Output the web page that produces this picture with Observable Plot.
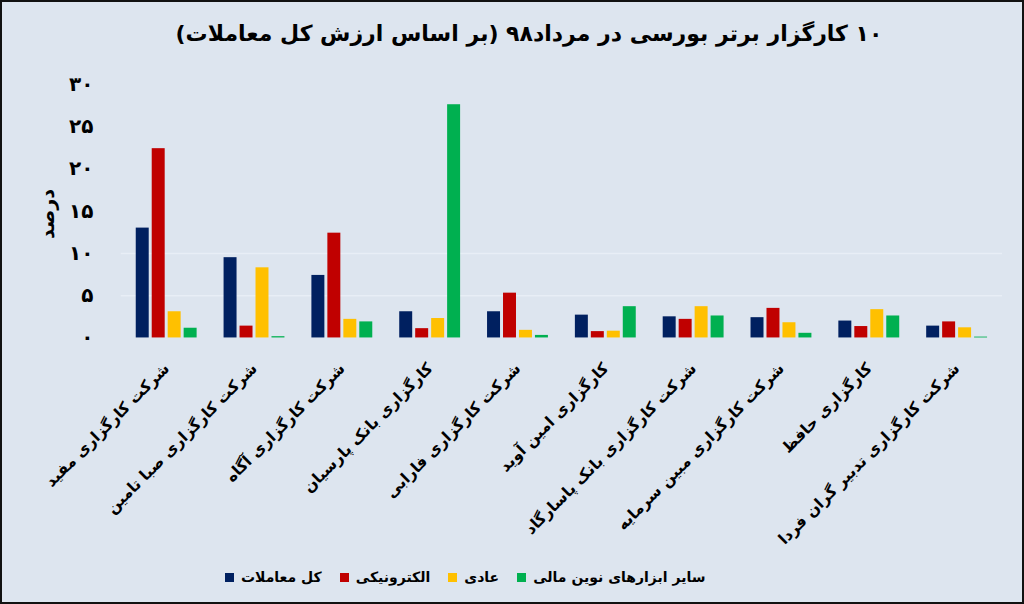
<!DOCTYPE html>
<html>
<head>
<meta charset="utf-8">
<script src="https://cdn.jsdelivr.net/npm/d3@7"></script>
<script src="https://cdn.jsdelivr.net/npm/@observablehq/plot@0.6"></script>
<style>
  html, body { margin: 0; padding: 0; background: #dde5ef; }
  #wrap { position: relative; width: 1024px; height: 604px; box-sizing: border-box;
          border: 2px solid #111; background: #dde5ef; overflow: hidden;
          font-family: "DejaVu Sans", sans-serif; }
  #title { position: absolute; top: 19px; left: 0; width: 1054px; text-align: center;
           font-size: 22px; font-weight: bold; direction: rtl; color: #000; }
  #ylabel { position: absolute; left: 45px; top: 212px; transform: translate(-50%,-50%) rotate(-90deg);
            font-size: 19px; font-weight: bold; white-space: nowrap; }
  .layer { position: absolute; left: -2px; top: 58px; }
  #legend { position: absolute; top: 567px; left: 223px; display: flex; align-items: center;
            font-size: 14px; font-weight: bold; gap: 0; }
  #legend .item { display: flex; align-items: center; margin-right: 18px; }
  #legend .sw { width: 9px; height: 9px; margin-right: 7px; }
</style>
</head>
<body>
<div id="wrap">
  <div id="title"></div>
  <div id="ylabel"></div>
  <div id="grid" class="layer"></div>
  <div id="bars" class="layer"></div>
  <div id="legend"></div>
</div>
<script>
const titleText = "۱۰ کارگزار برتر بورسی در مرداد۹۸ (بر اساس ارزش کل معاملات)";
const yLabel = "درصد";
const companies = [
  "شرکت کارگزاری مفید",
  "شرکت کارگزاری صبا تامین",
  "شرکت کارگزاری آگاه",
  "کارگزاری بانک پارسیان",
  "شرکت کارگزاری فارابی",
  "کارگزاری امین آوید",
  "شرکت کارگزاری بانک پاسارگاد",
  "شرکت کارگزاری مبین سرمایه",
  "کارگزاری حافظ",
  "شرکت کارگزاری تدبیر گران فردا"
];
const series = ["کل معاملات", "الکترونیکی", "عادی", "سایر ابزارهای نوین مالی"];
const colors = ["#002060", "#C00000", "#FFC000", "#00B050"];
const totalValues      = [13.0, 9.5, 7.4, 3.1, 3.1, 2.7, 2.5, 2.4, 2.0, 1.4];
const electronicValues = [22.4, 1.4, 12.4, 1.1, 5.3, 0.75, 2.2, 3.5, 1.35, 1.9];
const regularValues    = [3.1, 8.3, 2.2, 2.3, 0.9, 0.8, 3.7, 1.8, 3.35, 1.2];
const otherValues      = [1.15, 0.15, 1.9, 27.6, 0.3, 3.7, 2.6, 0.55, 2.6, 0.1];
const yTicks = [0, 5, 10, 15, 20, 25, 30];
const gridTicks = [5, 10];

const seriesValues = [totalValues, electronicValues, regularValues, otherValues];
const data = [];
companies.forEach((c, i) => series.forEach((s, j) => data.push({company: c, series: s, value: seriesValues[j][i]})));

const toFa = n => String(n).replace(/\d/g, d => "۰۱۲۳۴۵۶۷۸۹"[d]);

document.getElementById("title").textContent = titleText;
document.getElementById("ylabel").textContent = yLabel;

const W = 1024, H = 490;
const common = {
  width: W, height: H,
  marginLeft: 121, marginRight: 20, marginTop: 24, marginBottom: 212,
  style: {background: "transparent", fontFamily: "DejaVu Sans", color: "#000", overflow: "visible"}
};

const gridPlot = Plot.plot({
  ...common,
  x: {domain: [0, 1], axis: null},
  y: {domain: [0, 30], axis: null},
  marks: [
    Plot.ruleY(gridTicks, {stroke: "#e8eef6", strokeWidth: 1.5}),
    Plot.axisY({ticks: yTicks, tickFormat: toFa, tickSize: 0, tickPadding: 28,
                fontSize: 20, fontWeight: "bold", label: null})
  ]
});
document.getElementById("grid").appendChild(gridPlot);

const barPlot = Plot.plot({
  ...common,
  fx: {domain: companies, paddingInner: 0.28, paddingOuter: 0.14, label: null},
  x: {domain: series, axis: null, paddingInner: 0.2, paddingOuter: 0},
  y: {domain: [0, 30], axis: null},
  color: {domain: series, range: colors},
  marks: [
    Plot.barY(data, {fx: "company", x: "series", y: "value", fill: "series"}),
    Plot.axisFx({anchor: "bottom", tickRotate: -45, tickSize: 0, tickPadding: 28,
                 fontSize: 15.5, fontWeight: "bold", label: null})
  ]
});
document.getElementById("bars").appendChild(barPlot);

const legend = document.getElementById("legend");
series.forEach((s, j) => {
  const item = document.createElement("div");
  item.className = "item";
  const sw = document.createElement("span");
  sw.className = "sw";
  sw.style.background = colors[j];
  const t = document.createElement("span");
  t.textContent = s;
  item.appendChild(sw); item.appendChild(t);
  legend.appendChild(item);
});
</script>
</body>
</html>
